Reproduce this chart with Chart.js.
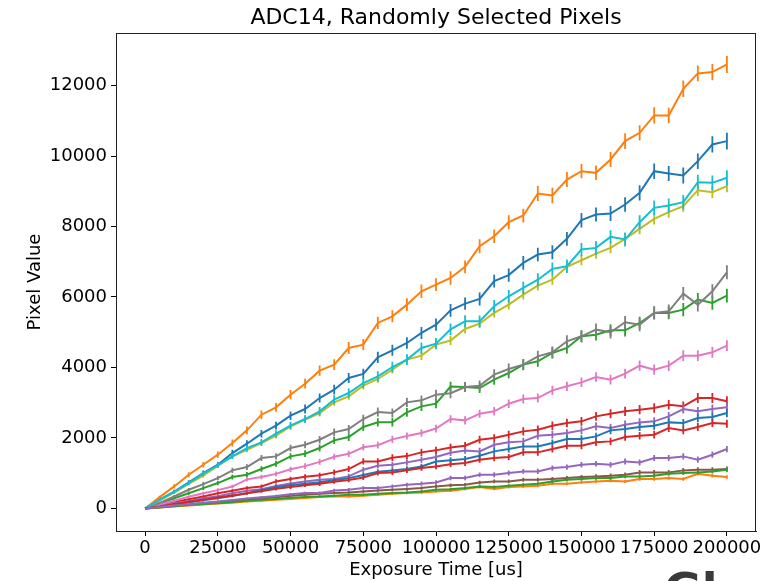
<!DOCTYPE html>
<html>
<head>
<meta charset="utf-8">
<script src="https://cdn.jsdelivr.net/npm/chart.js@4/dist/chart.umd.min.js"></script>
<style>
  html,body{margin:0;padding:0;background:#fff;overflow:hidden;}
  #wrap{position:relative;width:776px;height:581px;}
  #logo{position:absolute;left:664px;top:563px;font:bold 46px "DejaVu Sans";color:#3a3a3a;white-space:nowrap;}
</style>
</head>
<body>
<div id="wrap">
  <canvas id="chart" width="776" height="581"></canvas>
  <div id="logo">Gl</div>
</div>
<script>
// exposure times [us]
const exposure = [0,5000,10000,15000,20000,25000,30000,35000,40000,45000,50000,
  55000,60000,65000,70000,75000,80000,85000,90000,95000,100000,
  105000,110000,115000,120000,125000,130000,135000,140000,145000,150000,
  155000,160000,165000,170000,175000,180000,185000,190000,195000,200000];

const xTicks = [0,25000,50000,75000,100000,125000,150000,175000,200000];
const yTicks = [0,2000,4000,6000,8000,10000,12000];

// pixel values, one array per pixel
const pxBlueA   = [0,250,480,739,1004,1240,1572,1837,2121,2348,2632,2821,3133,3370,3701,3815,4288,4487,4695,4979,5215,
  5622,5812,5944,6450,6620,6967,7204,7270,7649,8179,8339,8368,8623,8955,9570,9504,9447,9854,10327,10422];
const pxOrangeA = [0,320,625,957,1241,1525,1856,2215,2660,2868,3228,3540,3909,4080,4553,4648,5263,5452,5783,6162,6351,
  6540,6854,7440,7724,8122,8311,8936,8879,9333,9570,9522,9901,10422,10658,11150,11150,11907,12343,12381,12598];
const pxGreenA  = [0,140,290,430,578,720,890,957,1118,1269,1477,1553,1714,1932,2026,2310,2443,2443,2727,2897,2973,
  3460,3446,3417,3654,3843,4080,4174,4411,4553,4884,4931,5054,5054,5263,5547,5547,5641,5925,5830,6039];
const pxRedA    = [0,90,180,260,340,430,500,578,625,767,834,900,940,1023,1118,1335,1335,1440,1485,1591,1648,
  1730,1780,1950,1998,2092,2187,2234,2348,2423,2471,2613,2688,2755,2802,2849,2944,2897,3133,3133,3039];
const pxPurpleA = [0,75,150,205,290,345,430,500,545,640,705,767,815,834,909,1099,1212,1241,1307,1383,1458,
  1580,1647,1619,1808,1875,1903,2064,2092,2140,2215,2329,2282,2376,2442,2471,2613,2821,2755,2821,2868];
const pxBrownA  = [0,35,75,105,145,180,215,250,285,320,360,389,417,436,455,484,512,531,550,578,626,
  660,673,739,767,767,815,815,834,862,890,909,928,957,1023,1023,1023,1080,1099,1099,1118];
const pxPinkA   = [0,110,220,330,430,520,620,825,890,980,1110,1200,1320,1468,1550,1737,1795,1960,2055,2140,2268,
  2537,2499,2688,2755,2972,3105,3133,3351,3465,3578,3730,3654,3824,4051,3938,4051,4335,4335,4430,4619];
const pxGrayA   = [0,160,340,530,690,862,1080,1174,1430,1477,1714,1809,1950,2159,2253,2537,2736,2708,3010,3067,3228,
  3270,3446,3483,3796,3957,4080,4316,4430,4742,4884,5073,4998,5282,5215,5547,5594,6095,5783,6162,6700];
const pxOliveA  = [0,230,450,700,928,1212,1477,1666,1856,2064,2329,2518,2707,3010,3181,3483,3673,3938,4222,4335,4648,
  4765,5092,5244,5547,5783,6067,6323,6490,6854,7043,7232,7393,7649,7933,8216,8406,8576,9030,8974,9144];
const pxCyanA   = [0,240,470,720,985,1220,1480,1714,1875,2121,2348,2537,2755,3086,3275,3559,3748,4013,4222,4553,4676,
  5080,5310,5310,5736,6020,6256,6490,6797,6873,7346,7393,7705,7630,8122,8529,8595,8690,9257,9239,9381];
const pxBlueB   = [0,50,110,170,230,290,350,430,520,600,660,700,740,800,860,950,1040,1080,1120,1190,1330,
  1364,1401,1496,1619,1685,1761,1761,1856,1969,1969,2045,2215,2253,2310,2348,2442,2423,2565,2594,2707];
const pxOrangeB = [0,25,55,85,110,140,165,195,220,250,270,294,323,342,342,361,389,417,436,455,484,
  500,550,606,550,606,625,644,701,701,739,767,786,767,834,834,862,834,985,928,890];
const pxGreenB  = [0,30,60,95,125,150,185,215,245,270,300,323,342,361,389,389,417,436,455,484,531,
  545,578,625,606,644,673,701,767,815,834,862,862,909,909,928,985,1004,1023,1051,1099];
const pxRedB    = [0,55,120,190,250,310,370,430,490,560,610,660,700,760,810,880,1004,1023,1080,1146,1193,
  1255,1288,1383,1430,1458,1591,1591,1685,1780,1780,1875,1903,2026,2064,2092,2282,2215,2310,2423,2405];
const pxPurpleB = [0,40,85,120,165,200,240,280,320,350,400,436,436,512,531,578,578,626,673,701,739,
  862,862,957,957,1004,1051,1051,1146,1174,1241,1269,1241,1335,1307,1430,1430,1477,1383,1525,1685];

// error bar half-lengths
const errBlueA   = [0,35,50,60,70,80,90,95,105,110,120,125,130,140,145,150,160,155,165,170,175,180,175,185,180,190,195,190,200,195,205,200,210,205,215,220,215,225,220,230,235];
const errOrangeA = [0,40,60,70,80,90,100,110,120,125,130,140,145,150,170,160,175,170,180,190,180,190,180,200,190,200,195,210,220,215,200,205,210,225,215,230,220,235,225,230,240];
const errGreenA  = [0,25,35,45,55,60,70,75,80,85,90,95,100,105,110,115,115,120,125,130,130,135,140,140,145,150,150,155,160,160,165,165,170,175,175,180,180,185,190,190,195];
const errRedA    = [0,15,25,30,35,40,45,50,55,60,65,70,75,80,85,90,90,95,95,100,100,105,105,110,110,115,115,120,120,120,125,125,130,130,130,135,135,140,140,140,145];
const errPurpleA = [0,15,20,25,30,35,40,45,50,55,60,65,65,70,75,80,80,85,85,90,90,95,95,100,100,100,105,105,110,110,110,115,115,120,120,120,125,125,125,130,130];
const errBrownA  = [0,10,15,15,20,20,25,25,30,30,30,35,35,35,40,40,40,45,45,45,50,50,50,50,55,55,55,55,60,60,60,60,60,65,65,65,65,65,70,70,70];
const errPinkA   = [0,20,30,40,45,50,55,60,65,70,75,80,80,85,90,95,95,100,100,105,110,110,115,115,120,120,125,125,130,130,135,135,140,140,145,145,150,150,150,155,155];
const errGrayA   = [0,25,40,50,60,65,75,80,85,90,95,100,105,110,115,120,125,125,130,135,140,140,145,150,150,155,160,160,165,170,170,175,175,180,185,185,190,190,195,200,200];
const errOliveA  = [0,25,35,45,55,60,65,70,75,80,85,90,95,95,100,105,110,110,115,120,120,125,130,125,130,135,135,140,140,145,145,150,150,155,150,160,155,160,165,165,170];
const errCyanA   = [0,30,45,55,65,75,80,90,95,100,110,115,120,125,130,140,145,150,150,155,160,165,170,165,175,180,175,185,180,190,185,195,190,200,195,205,200,205,210,210,215];
const errBlueB   = [0,15,20,25,30,35,40,45,50,55,55,60,60,65,70,70,75,75,80,80,85,85,90,90,95,95,95,100,100,105,105,105,110,110,110,115,115,115,120,120,120];
const errOrangeB = [0,5,10,10,15,15,15,20,20,20,25,25,25,25,30,30,30,30,30,35,35,35,35,35,35,40,40,40,40,40,40,45,45,45,45,45,45,45,50,50,50];
const errGreenB  = [0,10,10,15,15,20,20,20,25,25,25,30,30,30,30,35,35,35,35,40,40,40,40,45,45,45,45,45,50,50,50,50,50,55,55,55,55,55,55,60,60];
const errRedB    = [0,15,20,25,30,35,40,40,45,50,55,55,60,60,65,70,70,75,75,80,80,85,85,85,90,90,95,95,95,100,100,100,105,105,105,110,110,110,115,115,115];
const errPurpleB = [0,10,15,20,25,25,30,30,35,35,40,40,45,45,50,50,55,55,55,60,60,65,65,65,70,70,70,75,75,75,80,80,80,85,85,85,85,90,90,90,90];

const pixels = [pxBlueA,pxOrangeA,pxGreenA,pxRedA,pxPurpleA,pxBrownA,pxPinkA,pxGrayA,pxOliveA,pxCyanA,
  pxBlueB,pxOrangeB,pxGreenB,pxRedB,pxPurpleB];
const errors = [errBlueA,errOrangeA,errGreenA,errRedA,errPurpleA,errBrownA,errPinkA,errGrayA,errOliveA,errCyanA,
  errBlueB,errOrangeB,errGreenB,errRedB,errPurpleB];
const colors = ["#1f77b4","#ff7f0e","#2ca02c","#d62728","#9467bd","#8c564b","#e377c2","#7f7f7f","#bcbd22","#17becf"];

const TITLE = "ADC14, Randomly Selected Pixels";
const FONT = "DejaVu Sans";

const datasets = pixels.map((vals,i)=>({
  data: exposure.map((x,j)=>({x, y: vals[j]})),
  err: errors[i],
  borderColor: colors[i % colors.length],
  borderWidth: 2,
  pointRadius: 0,
  tension: 0,
  fill: false,
  order: pixels.length - i
}));

// vertical error bars, drawn with each line so later pixels sit on top
const errorBars = {
  id: "errorBars",
  afterDatasetDraw(chart, args){
    const ds = chart.data.datasets[args.index];
    const ys = chart.scales.y, xs = chart.scales.x, a = chart.chartArea;
    const ctx = chart.ctx;
    ctx.save();
    ctx.beginPath(); ctx.rect(a.left, a.top, a.right-a.left, a.bottom-a.top); ctx.clip();
    ctx.strokeStyle = ds.borderColor;
    ctx.lineWidth = 1.8;
    ctx.beginPath();
    ds.data.forEach((p,j)=>{
      const e = ds.err[j];
      if(!e) return;
      const px = xs.getPixelForValue(p.x);
      ctx.moveTo(px, ys.getPixelForValue(p.y - e));
      ctx.lineTo(px, ys.getPixelForValue(p.y + e));
    });
    ctx.stroke();
    ctx.restore();
  }
};

// top/right spines and the title centred over the plot area
const frame = {
  id: "frame",
  afterDraw(chart){
    const a = chart.chartArea, ctx = chart.ctx;
    ctx.save();
    ctx.strokeStyle = "#222";
    ctx.lineWidth = 1;
    ctx.beginPath();
    ctx.moveTo(a.left, a.top + 0.5); ctx.lineTo(a.right, a.top + 0.5);
    ctx.moveTo(a.right - 0.5, a.top); ctx.lineTo(a.right - 0.5, a.bottom);
    ctx.stroke();
    ctx.fillStyle = "#000";
    ctx.font = "22px '" + FONT + "'";
    ctx.textAlign = "center";
    ctx.textBaseline = "middle";
    ctx.fillText(TITLE, (a.left + a.right) / 2, 18);
    ctx.restore();
  }
};

Chart.defaults.animation = false;

new Chart(document.getElementById("chart"), {
  type: "line",
  data: { datasets },
  plugins: [errorBars, frame],
  options: {
    responsive: false,
    layout: { padding: { left: 0, right: 20, top: 33, bottom: 0 } },
    plugins: {
      legend: { display: false },
      tooltip: { enabled: false },
      title: { display: false }
    },
    scales: {
      x: {
        type: "linear",
        min: -10000, max: 210000,
        afterBuildTicks: s => { s.ticks = xTicks.map(v => ({ value: v })); },
        afterFit: s => { s.height = 50; },
        grid: { drawOnChartArea: false, drawTicks: true, tickLength: 5, color: "#000" },
        border: { display: true, color: "#222", width: 1 },
        ticks: { color: "#000", font: { family: FONT, size: 18 }, padding: 2, maxRotation: 0, autoSkip: false,
          callback: v => String(v) },
        title: { display: true, text: "Exposure Time [us]", color: "#000",
          font: { family: FONT, size: 18 }, padding: { top: 0, bottom: 0 } }
      },
      y: {
        type: "linear",
        min: -640, max: 13490,
        afterBuildTicks: s => { s.ticks = yTicks.map(v => ({ value: v })); },
        afterFit: s => { s.width = 116; },
        grid: { drawOnChartArea: false, drawTicks: true, tickLength: 5, color: "#000" },
        border: { display: true, color: "#222", width: 1 },
        ticks: { color: "#000", font: { family: FONT, size: 18 }, padding: 4,
          callback: v => String(v) },
        title: { display: true, text: "Pixel Value", color: "#000",
          font: { family: FONT, size: 18 }, padding: { top: 25, bottom: 0 } }
      }
    }
  }
});
</script>
</body>
</html>
